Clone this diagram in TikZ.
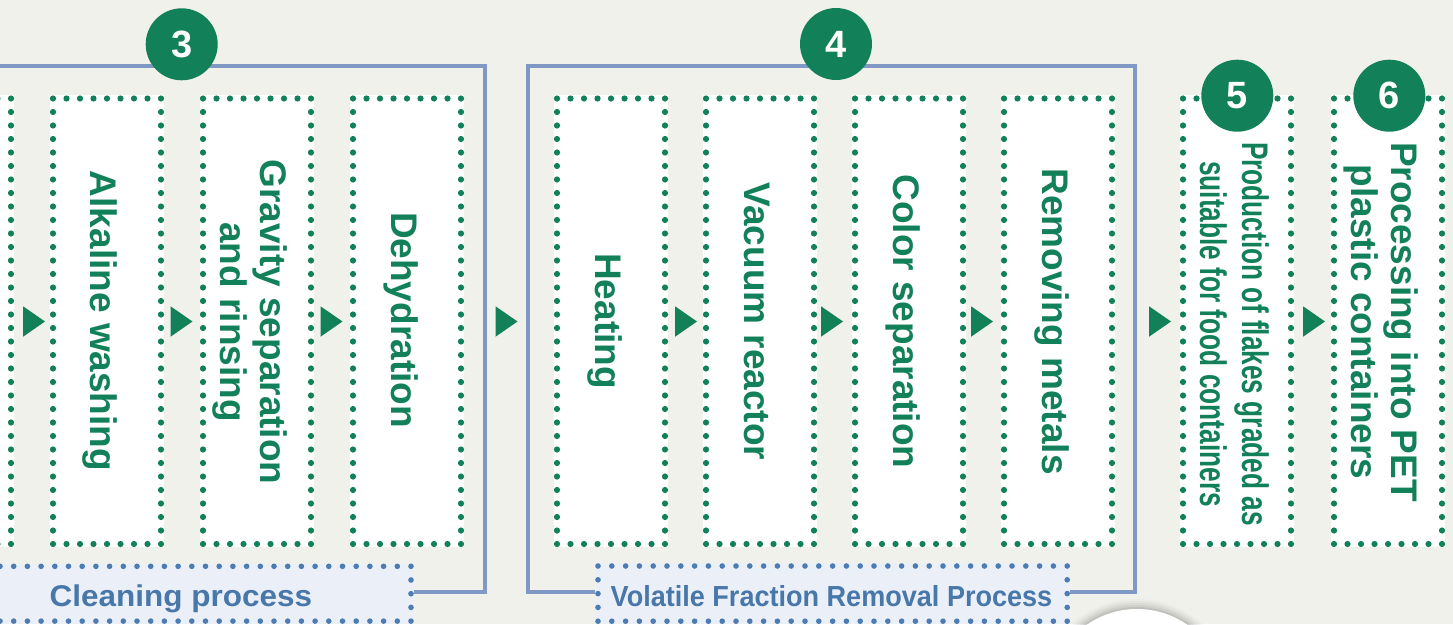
\documentclass[tikz,border=0pt]{standalone}
\usepackage{fontspec}
\setmainfont{Liberation Sans}
\usepackage{graphicx}
\definecolor{flowgreen}{RGB}{18,128,88}
\definecolor{frameblue}{RGB}{128,153,196}
\definecolor{tagblue}{RGB}{72,119,170}
\definecolor{tagdot}{RGB}{76,124,178}
\definecolor{tagfill}{RGB}{235,239,247}
\definecolor{paper}{RGB}{241,241,236}
\tikzset{
  stepbox/.style={rectangle, inner sep=0pt, outer sep=0pt,
    minimum width=108pt, minimum height=445.5pt,
    preaction={draw=white, fill=white, line width=6.4pt, solid},
    draw=flowgreen, line width=6.2pt, line cap=round,
    dash pattern=on 0pt off 13.5pt},
  steptext/.style={rotate=-90, inner sep=0pt, text=flowgreen, align=center,
    font=\fontsize{37pt}{40pt}\selectfont\bfseries},
  badge/.style={circle, fill=flowgreen, minimum size=72pt, inner sep=0pt,
    text=white, font=\fontsize{38pt}{40pt}\selectfont\bfseries},
  groupframe/.style={draw=frameblue, line width=3.2pt},
  tagbox/.style={rectangle, inner sep=0pt, outer sep=0pt,
    preaction={draw=tagfill, fill=tagfill, line width=5.6pt, solid},
    draw=tagdot, line width=5.6pt, line cap=round},
  tagtext/.style={text=tagblue, inner sep=0pt, anchor=base},
  pics/flowtip/.style={code={\fill[flowgreen] (-11,-15.25) -- (11,0) -- (-11,15.25) -- cycle;}}
}
\begin{document}
\begin{tikzpicture}[x=1pt, y=-1pt]
\useasboundingbox (0,0) rectangle (1453,624);
\clip (0,0) rectangle (1453,624);
\fill[paper] (0,0) rectangle (1453,624);

% group frames
\draw[groupframe] (-20,66) rectangle (485,592);
\draw[groupframe] (528,66) rectangle (1135,592);

% group labels
\node[tagbox, dash pattern=on 0pt off 13.7pt, minimum width=424.7pt, minimum height=54.8pt] (cleanTag) at (198.65,593.7) {};
\node[tagbox, dash pattern=on 0pt off 13.8pt, minimum width=469.2pt, minimum height=55.2pt] (volTag) at (832.6,593.6) {};
\node[tagtext, font=\fontsize{30pt}{32pt}\selectfont\bfseries] (cleanText) at (181,606) {\scalebox{1.05}[1]{Cleaning process}};
\node[tagtext, font=\fontsize{29pt}{31pt}\selectfont\bfseries] (volText) at (831.5,606) {\scalebox{0.933}[1]{Volatile Fraction Removal Process}};

% process steps
\node[stepbox] (b0) at (-43,321.25) {};
\node[stepbox] (b1) at (107,321.25) {};
\node[stepbox] (b2) at (257,321.25) {};
\node[stepbox] (b3) at (407,321.25) {};
\node[stepbox] (b4) at (611,321.25) {};
\node[stepbox] (b5) at (760,321.25) {};
\node[stepbox] (b6) at (909,321.25) {};
\node[stepbox] (b7) at (1058,321.25) {};
\node[stepbox] (b8) at (1237,321.25) {};
\node[stepbox] (b9) at (1388,321.25) {};

\node[steptext, anchor=base] (t1) at (90.7,321) {Alkaline washing};
\node[steptext, anchor=center] (t2) at (249.6,322) {Gravity separation\\and rinsing};
\node[steptext, anchor=base] (t3) at (391,320) {Dehydration};
\node[steptext, anchor=base] (t4) at (595,321) {Heating};
\node[steptext, anchor=base] (t5) at (744,321.5) {Vacuum reactor};
\node[steptext, anchor=base] (t6) at (893,321.5) {Color separation};
\node[steptext, anchor=base] (t7) at (1042,321.5) {Removing metals};
\node[steptext, anchor=center, font=\fontsize{37pt}{42pt}\selectfont\bfseries] (t8) at (1234.3,334)
  {\scalebox{0.71}[1]{Production of flakes graded as}\\\scalebox{0.71}[1]{suitable for food containers}};
\node[steptext, anchor=center] (t9) at (1381.5,322) {Processing into PET\\plastic containers};

% flow markers between steps
\foreach \ax in {34,181.5,331.5,506.5,686,832,982,1160,1314}
  \pic at (\ax,321.5) {flowtip};

% stage numbers
\node[badge] (n3) at (181.7,44.3) {3};
\node[badge] (n4) at (836,44) {4};
\node[badge] (n5) at (1237.3,95.7) {5};
\node[badge] (n6) at (1389.3,95.7) {6};

% round white disc with soft shadow
\foreach \r/\o in {98/0.02,96/0.03,94/0.04,92/0.05,90/0.07}
  \fill[black, opacity=\o] (1137,697) circle (\r);
\fill[white] (1137,697) circle (88);
\end{tikzpicture}
\end{document}
